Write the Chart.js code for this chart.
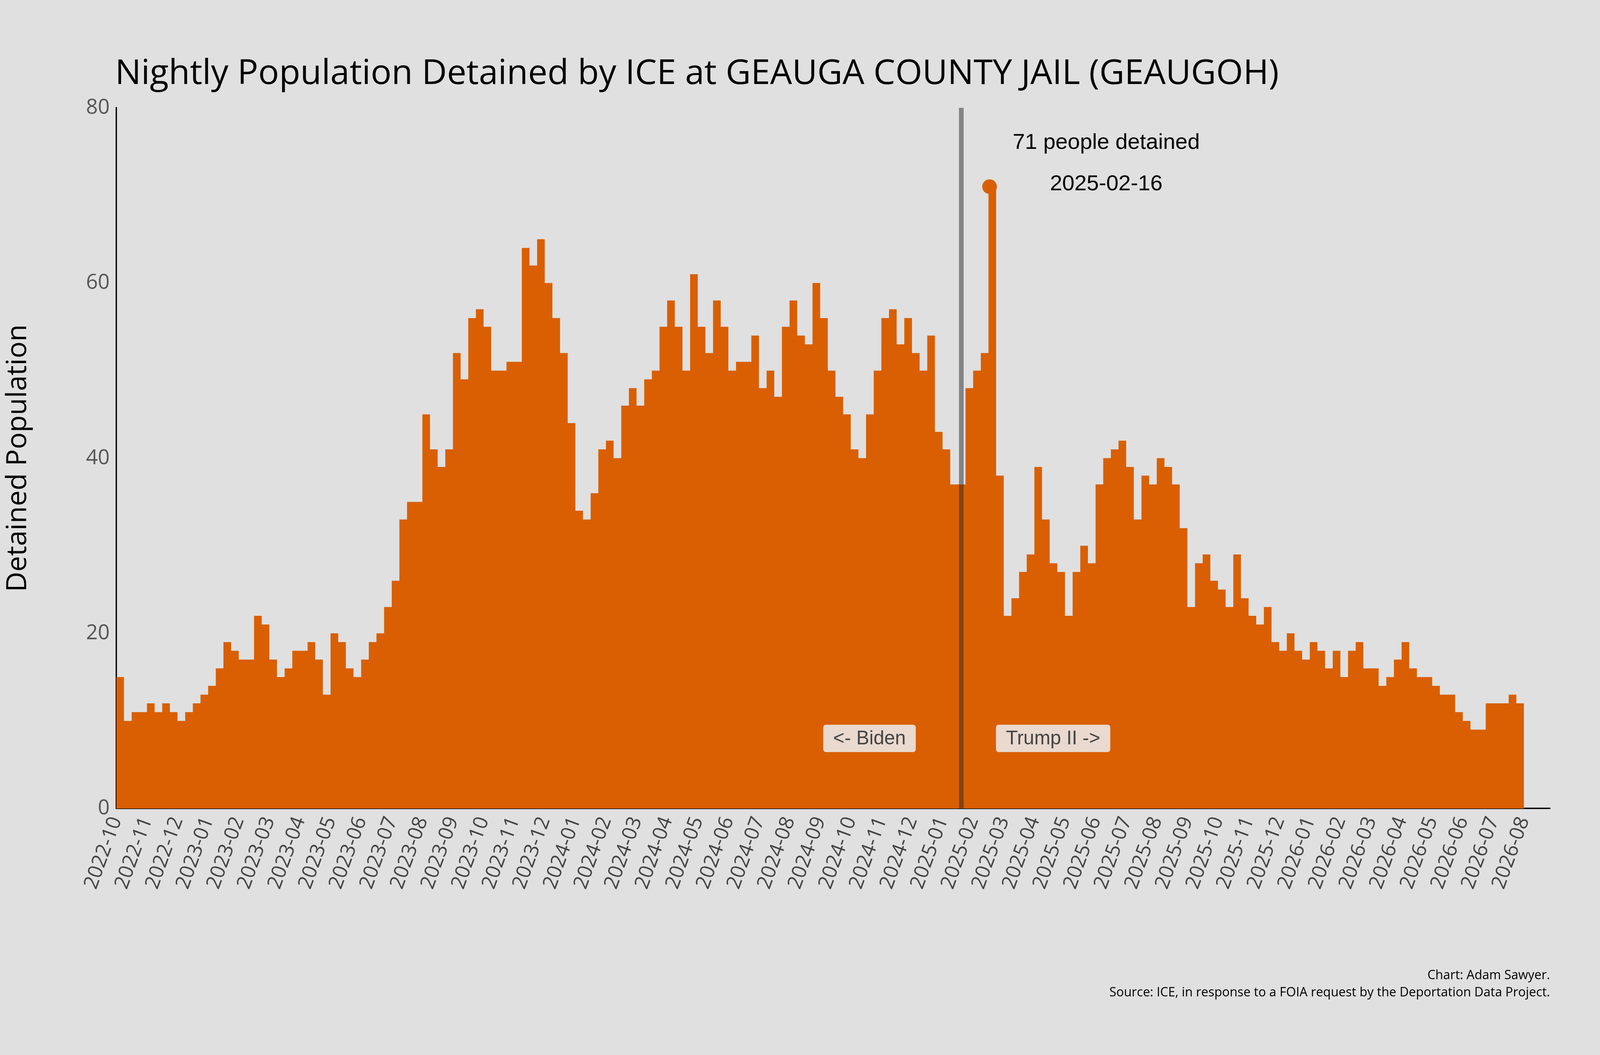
<!DOCTYPE html>
<html><head><meta charset="utf-8">
<script src="https://cdn.jsdelivr.net/npm/chart.js@4/dist/chart.umd.min.js"></script>
<style>html,body{margin:0;padding:0;background:#e0e0e0;overflow:hidden;}#wrap{width:100vw;height:100vh;position:relative;}</style>
</head><body>
<div id="wrap"><canvas id="c"></canvas></div>
<script>
// Month tick labels (one per month, starting 2022-10)
const monthLabels = ["2022-10","2022-11","2022-12","2023-01","2023-02","2023-03","2023-04","2023-05","2023-06","2023-07","2023-08","2023-09","2023-10","2023-11","2023-12","2024-01","2024-02","2024-03","2024-04","2024-05","2024-06","2024-07","2024-08","2024-09","2024-10","2024-11","2024-12","2025-01","2025-02","2025-03","2025-04","2025-05","2025-06","2025-07","2025-08","2025-09","2025-10","2025-11","2025-12","2026-01","2026-02","2026-03","2026-04","2026-05","2026-06","2026-07","2026-08"];
// Detained population, four readings per month (quarter-month steps) from 2022-10
const population = [
 15,10,11,11, 12,11,12,11, 10,11,12,13, 14,16,19,18, 17,17,22,21, 17,15,16,18,
 18,19,17,13, 20,19,16,15, 17,19,20,23, 26,33,35,35, 45,41,39,41, 52,49,56,57,
 55,50,50,51, 51,64,62,65, 60,56,52,44, 34,33,36,41, 42,40,46,48, 46,49,50,55,
 58,55,50,61, 55,52,58,55, 50,51,51,54, 48,50,47,55, 58,54,53,60, 56,50,47,45,
 41,40,45,50, 56,57,53,56, 52,50,54,43, 41,37,37,48, 50,52,71,38, 22,24,27,29,
 39,33,28,27, 22,27,30,28, 37,40,41,42, 39,33,38,37, 40,39,37,32, 23,28,29,26,
 25,23,29,24, 22,21,23,19, 18,20,18,17, 19,18,16,18, 15,18,19,16, 16,14,15,17,
 19,16,15,15, 14,13,13,11, 10,9,9,12, 12,12,13,12
];
const yTicks = [0,20,40,60,80];
const peakValue = 71, peakDate = "2025-02-16", peakMonth = 28 + 15/28;
const inaugurationMonth = 27 + 19/31;

const pts = population.map((v,i)=>({x:i/4, y:v}));
pts.push({x:population.length/4, y:population[population.length-1]});

const MAIN = "'Open Sans', 'Noto Sans', sans-serif";
const ARIAL = "'Liberation Sans', Arial, sans-serif";
const W = window.innerWidth, H = window.innerHeight;
const k = W/4800, kh = H/2700;

const overlay = {
  id:'overlay',
  afterDatasetsDraw(chart){
    const {ctx, scales:{x,y}, chartArea:a} = chart;
    ctx.save();
    const lx = x.getPixelForValue(inaugurationMonth);
    ctx.fillStyle = 'rgba(40,40,40,0.5)';
    ctx.fillRect(lx-7*k, a.top, 14*k, a.bottom-a.top);
    ctx.fillStyle = '#d95f02';
    ctx.beginPath();
    ctx.arc(x.getPixelForValue(peakMonth), y.getPixelForValue(peakValue), 22*k, 0, Math.PI*2);
    ctx.fill();
    ctx.fillStyle = '#000';
    ctx.font = `${66*k}px ${ARIAL}`;
    ctx.textAlign='center'; ctx.textBaseline='middle';
    const tx = x.getPixelForValue(peakMonth)+350*k;
    ctx.fillText(peakValue+" people detained", tx, y.getPixelForValue(76));
    ctx.fillText(peakDate, tx, y.getPixelForValue(71.3));
    const box = (label, cx)=>{
      ctx.font = `${58*k}px ${ARIAL}`;
      const w = ctx.measureText(label).width + 60*k, h = 82*k;
      const cy = y.getPixelForValue(8);
      ctx.fillStyle = 'rgba(235,228,224,0.92)';
      ctx.beginPath(); ctx.roundRect(cx-w/2, cy-h/2, w, h, 8*k); ctx.fill();
      ctx.fillStyle = '#444';
      ctx.fillText(label, cx, cy+2*k);
    };
    box("<- Biden", x.getPixelForValue(inaugurationMonth - 3.0));
    box("Trump II ->", x.getPixelForValue(inaugurationMonth + 3.0));
    ctx.restore();
  },
  afterDraw(chart){
    const ctx = chart.ctx;
    ctx.save();
    ctx.fillStyle='#000';
    ctx.font = `${104*k}px ${MAIN}`;
    ctx.textAlign='left'; ctx.textBaseline='middle';
    ctx.fillText("Nightly Population Detained by ICE at GEAUGA COUNTY JAIL (GEAUGOH)", 345*k, 190*kh);
    ctx.font = `${38*k}px ${MAIN}`;
    ctx.textAlign='right';
    ctx.fillText("Chart: Adam Sawyer.", 4650*k, 2497*kh);
    ctx.fillText("Source: ICE, in response to a FOIA request by the Deportation Data Project.", 4650*k, 2541*kh);
    ctx.restore();
  }
};

new Chart(document.getElementById('c'), {
  type:'line',
  data:{datasets:[{data:pts, stepped:'before', fill:'origin', backgroundColor:'#d95f02', borderWidth:0, pointRadius:0}]},
  options:{
    responsive:true, maintainAspectRatio:false, animation:false,
    layout:{padding:{top:276*kh, right:150*k, left:0, bottom:0}},
    plugins:{legend:{display:false}, tooltip:{enabled:false}},
    scales:{
      x:{type:'linear', min:0, max:46.85,
        grid:{display:false, drawTicks:true, tickLength:12*k, tickColor:'#333'},
        border:{display:true, color:'#000', width:4*k},
        afterBuildTicks(s){ s.ticks = monthLabels.map((_,i)=>({value:i})); },
        afterFit(s){ s.height = 631*kh; },
        ticks:{autoSkip:false, maxRotation:70, minRotation:70, color:'#444', font:{size:60*k, family:MAIN},
          callback:(v)=>monthLabels[Math.round(v)]}
      },
      y:{min:0, max:80,
        afterBuildTicks(s){ s.ticks = yTicks.map(v=>({value:v})); },
        afterFit(s){ s.width = 349*k; },
        grid:{display:false, drawTicks:true, tickLength:12*k, tickColor:'#333'},
        border:{display:true, color:'#000', width:4*k},
        ticks:{color:'#555', font:{size:62*k, family:MAIN}, padding:8*k},
        title:{display:true, text:'Detained Population', color:'#000', font:{size:84*k, family:MAIN}, padding:{bottom:20*k}}
      }
    }
  },
  plugins:[overlay]
});
</script>
</body></html>
